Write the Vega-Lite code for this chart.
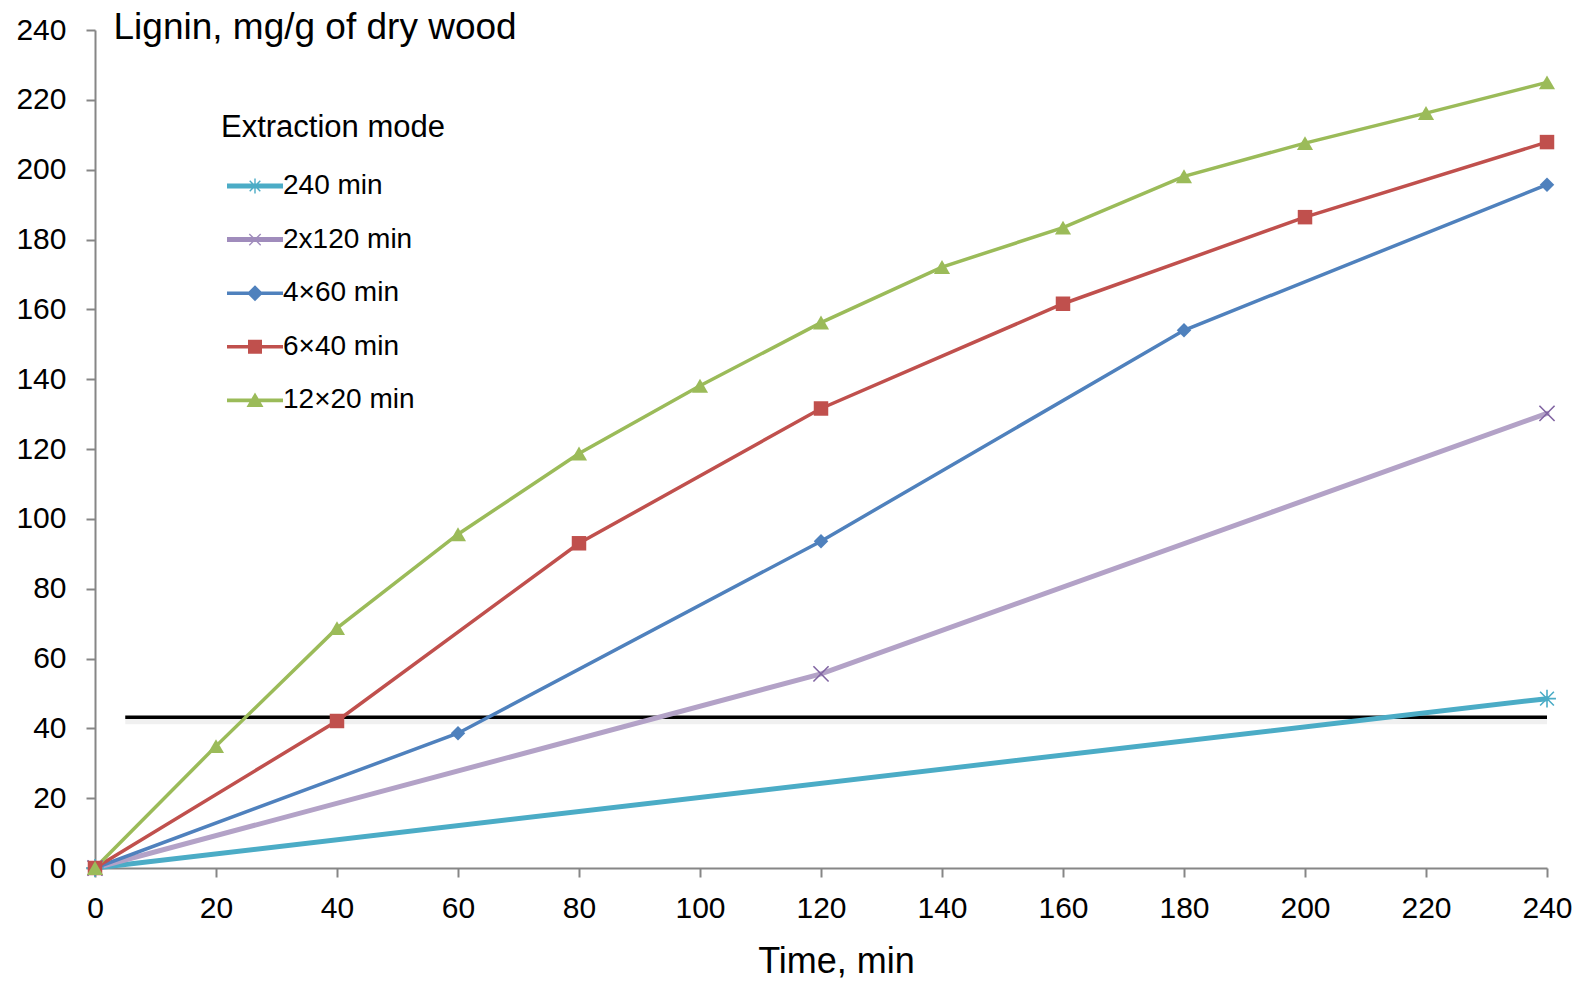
{
  "$schema": "https://vega.github.io/schema/vega-lite/v6.json",
  "width": 1452,
  "height": 838,
  "autosize": {"type": "none"},
  "padding": {"left": 95, "top": 30, "right": 33, "bottom": 114},
  "background": "white",
  "config": {
    "font": "Liberation Sans",
    "view": {"stroke": null},
    "axis": {
      "grid": false,
      "domainColor": "#868686",
      "domainWidth": 2,
      "tickColor": "#868686",
      "tickWidth": 2,
      "tickSize": 9,
      "labelFont": "Liberation Sans",
      "labelFontSize": 30,
      "labelColor": "#000000",
      "labelFlush": false,
      "labelOverlap": false,
      "titleFont": "Liberation Sans",
      "titleFontWeight": "normal",
      "titleColor": "#000000"
    },
    "legend": {
      "titleFont": "Liberation Sans",
      "labelFont": "Liberation Sans"
    }
  },
  "datasets": {
    "lignin": [
      {"mode": "240 min", "time": 0, "value": 0},
      {"mode": "240 min", "time": 240, "value": 48.5},
      {"mode": "2x120 min", "time": 0, "value": 0},
      {"mode": "2x120 min", "time": 120, "value": 55.6},
      {"mode": "2x120 min", "time": 240, "value": 130.2},
      {"mode": "4×60 min", "time": 0, "value": 0},
      {"mode": "4×60 min", "time": 60, "value": 38.6},
      {"mode": "4×60 min", "time": 120, "value": 93.6},
      {"mode": "4×60 min", "time": 180, "value": 154},
      {"mode": "4×60 min", "time": 240, "value": 195.7},
      {"mode": "6×40 min", "time": 0, "value": 0},
      {"mode": "6×40 min", "time": 40, "value": 42.1},
      {"mode": "6×40 min", "time": 80, "value": 93},
      {"mode": "6×40 min", "time": 120, "value": 131.6},
      {"mode": "6×40 min", "time": 160, "value": 161.6},
      {"mode": "6×40 min", "time": 200, "value": 186.4},
      {"mode": "6×40 min", "time": 240, "value": 207.9},
      {"mode": "12×20 min", "time": 0, "value": 0},
      {"mode": "12×20 min", "time": 20, "value": 34.9},
      {"mode": "12×20 min", "time": 40, "value": 68.7},
      {"mode": "12×20 min", "time": 60, "value": 95.6},
      {"mode": "12×20 min", "time": 80, "value": 118.7},
      {"mode": "12×20 min", "time": 100, "value": 138.1},
      {"mode": "12×20 min", "time": 120, "value": 156.2},
      {"mode": "12×20 min", "time": 140, "value": 172.1},
      {"mode": "12×20 min", "time": 160, "value": 183.4},
      {"mode": "12×20 min", "time": 180, "value": 198.1},
      {"mode": "12×20 min", "time": 200, "value": 207.6},
      {"mode": "12×20 min", "time": 220, "value": 216.2},
      {"mode": "12×20 min", "time": 240, "value": 225}
    ],
    "level": [
      {"from": 5, "to": 240, "value": 43.2}
    ]
  },
  "encoding": {
    "x": {
      "field": "time",
      "type": "quantitative",
      "scale": {"domain": [0, 240], "nice": false, "zero": false},
      "axis": {
        "values": [0, 20, 40, 60, 80, 100, 120, 140, 160, 180, 200, 220, 240],
        "labelPadding": 16,
        "title": "Time, min",
        "titleFontSize": 36,
        "titleX": 741,
        "titleY": 104,
        "titleAlign": "center",
        "titleBaseline": "alphabetic",
        "titleAnchor": null
      }
    },
    "y": {
      "field": "value",
      "type": "quantitative",
      "scale": {"domain": [0, 240], "nice": false, "zero": false},
      "axis": {
        "values": [0, 20, 40, 60, 80, 100, 120, 140, 160, 180, 200, 220, 240],
        "labelPadding": 20,
        "title": "Lignin, mg/g of dry wood",
        "titleFontSize": 37,
        "titleAngle": 0,
        "titleAlign": "left",
        "titleBaseline": "alphabetic",
        "titleX": 18,
        "titleY": 8,
        "titleAnchor": null
      }
    }
  },
  "layer": [
    {
      "data": {"name": "level"},
      "mark": {"type": "rule", "color": "#000000", "strokeWidth": 8, "opacity": 0.06, "yOffset": 3},
      "encoding": {
        "x": {"field": "from", "type": "quantitative"},
        "x2": {"field": "to"},
        "y": {"field": "value", "type": "quantitative"}
      }
    },
    {
      "data": {"name": "level"},
      "mark": {"type": "rule", "color": "#000000", "strokeWidth": 3.5},
      "encoding": {
        "x": {"field": "from", "type": "quantitative"},
        "x2": {"field": "to"},
        "y": {"field": "value", "type": "quantitative"}
      }
    },
    {
      "data": {"name": "lignin"},
      "transform": [{"filter": "datum.mode === '240 min' || datum.mode === '2x120 min'"}],
      "mark": {"type": "line", "strokeWidth": 5, "strokeCap": "round"},
      "encoding": {
        "color": {
          "field": "mode",
          "type": "nominal",
          "scale": {
            "domain": ["240 min", "2x120 min", "4×60 min", "6×40 min", "12×20 min"],
            "range": ["#4BACC6", "#B3A2C7", "#4F81BD", "#C0504D", "#9BBB59"]
          },
          "legend": {
            "title": "Extraction mode",
            "orient": "none",
            "legendX": 126,
            "legendY": 83,
            "padding": 0,
            "titleFontSize": 31,
            "titleFontWeight": "normal",
            "titleColor": "#000000",
            "titleLimit": 500,
            "titlePadding": 28,
            "labelFontSize": 28,
            "labelColor": "#000000",
            "labelLimit": 400,
            "labelOffset": 34,
            "rowPadding": 25.6,
            "symbolSize": 400,
            "encode": {
              "symbols": {
                "update": {
                  "shape": {"signal": "datum.value === '240 min' ? 'M-0.8,-0.25H4.8V0.25H-0.8Z M1.93,-0.75H2.07V0.75H1.93Z M2.58,0.48L2.48,0.58L1.42,-0.48L1.52,-0.58Z M1.42,0.48L2.48,-0.58L2.58,-0.48L1.52,0.58Z' : datum.value === '2x120 min' ? 'M-0.8,-0.25H4.8V0.25H-0.8Z M2.62,0.52L2.52,0.62L1.38,-0.52L1.48,-0.62Z M1.38,0.52L2.52,-0.62L2.62,-0.52L1.48,0.62Z' : datum.value === '4×60 min' ? 'M-0.8,-0.18H4.8V0.18H-0.8Z M2,-0.8L2.8,0L2,0.8L1.2,0Z' : datum.value === '6×40 min' ? 'M-0.8,-0.18H4.8V0.18H-0.8Z M1.3,-0.7H2.7V0.7H1.3Z' : 'M-0.8,-0.18H4.8V0.18H-0.8Z M2,-0.8L2.85,0.65L1.15,0.65Z'"},
                  "fill": {"signal": "datum.value === '240 min' ? '#4BACC6' : datum.value === '2x120 min' ? '#A08CBC' : datum.value === '4×60 min' ? '#4F81BD' : datum.value === '6×40 min' ? '#C0504D' : '#9BBB59'"},
                  "stroke": {"value": "transparent"},
                  "strokeWidth": {"value": 0},
                  "opacity": {"value": 1},
                  "fillOpacity": {"value": 1}
                }
              }
            }
          }
        }
      }
    },
    {
      "data": {"name": "lignin"},
      "transform": [{"filter": "datum.mode !== '240 min' && datum.mode !== '2x120 min'"}],
      "mark": {"type": "line", "strokeWidth": 3.5, "strokeCap": "round"},
      "encoding": {
        "color": {"field": "mode", "type": "nominal"}
      }
    },
    {
      "data": {"name": "lignin"},
      "transform": [{"filter": "datum.mode === '240 min'"}],
      "mark": {"type": "point", "shape": "M-1,-1L1,1M-1,1L1,-1M0,-1.3V1.3M-1.3,0H1.3", "filled": false, "color": "#4BACC6", "strokeWidth": 1.6, "size": 190, "opacity": 1}
    },
    {
      "data": {"name": "lignin"},
      "transform": [{"filter": "datum.mode === '2x120 min'"}],
      "mark": {"type": "point", "shape": "M-1,-1L1,1M-1,1L1,-1", "filled": false, "color": "#8064A2", "strokeWidth": 1.6, "size": 230, "opacity": 1}
    },
    {
      "data": {"name": "lignin"},
      "transform": [{"filter": "datum.mode === '4×60 min'"}],
      "mark": {"type": "point", "shape": "diamond", "filled": true, "color": "#4F81BD", "size": 210, "opacity": 1}
    },
    {
      "data": {"name": "lignin"},
      "transform": [{"filter": "datum.mode === '6×40 min'"}],
      "mark": {"type": "point", "shape": "square", "filled": true, "color": "#C0504D", "size": 210, "opacity": 1}
    },
    {
      "data": {"name": "lignin"},
      "transform": [{"filter": "datum.mode === '12×20 min'"}],
      "mark": {"type": "point", "shape": "triangle-up", "filled": true, "color": "#9BBB59", "size": 260, "opacity": 1}
    }
  ]
}
